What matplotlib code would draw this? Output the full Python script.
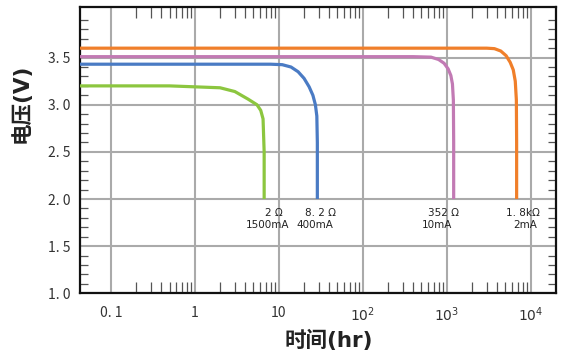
import matplotlib
matplotlib.use("Agg")
import matplotlib.pyplot as plt
from matplotlib.ticker import FixedLocator, NullFormatter

plt.rcParams['font.family'] = ['Noto Sans CJK SC', 'DejaVu Sans']

# ---- data ----
green_t = [0.04, 0.5, 1.0, 2.0, 3.0, 4.3, 5.5, 6.1, 6.5, 6.7, 6.7]
green_v = [3.20, 3.20, 3.19, 3.18, 3.14, 3.06, 3.00, 2.94, 2.85, 2.50, 2.00]

blue_t = [0.04, 8.0, 11.0, 14.0, 17.0, 20.0, 23.0, 25.5, 27.3, 28.4, 28.8, 28.8]
blue_v = [3.43, 3.43, 3.425, 3.40, 3.35, 3.28, 3.19, 3.10, 3.00, 2.88, 2.60, 2.00]

pink_t = [0.04, 400, 650, 800, 930, 1040, 1120, 1170, 1200, 1210, 1210]
pink_v = [3.51, 3.51, 3.505, 3.48, 3.44, 3.38, 3.31, 3.22, 3.05, 2.60, 2.00]

orange_t = [0.04, 3000, 3700, 4400, 5100, 5700, 6200, 6550, 6750, 6800, 6800]
orange_v = [3.60, 3.60, 3.595, 3.57, 3.52, 3.45, 3.37, 3.25, 3.05, 2.60, 2.00]

series_colors = ['#8cc63f', '#4a7bc4', '#c27ab4', '#f07f2a']

load_ohm = ['2 Ω', '8. 2 Ω', '352 Ω', '1. 8kΩ']
load_ma = ['1500mA', '400mA', '10mA', '2mA']

xticks = [0.1, 1, 10, 100, 1000, 10000]
xticklabels = ['0. 1', '1', '10', r'$10^{2}$', r'$10^{3}$', r'$10^{4}$']
yticks = [1.0, 1.5, 2.0, 2.5, 3.0, 3.5]
yticklabels = ['1. 0', '1. 5', '2. 0', '2. 5', '3. 0', '3. 5']

# ---- figure ----
fig = plt.figure(figsize=(5.7, 3.6), dpi=100)
ax = fig.add_axes([0.1404, 0.1853, 0.8350, 0.7961])

ax.set_xscale('log')
ax.set_xlim(0.043, 20000)
ax.set_ylim(1.0, 4.04)

# grid
ax.set_xticks(xticks)
ax.set_xticklabels(xticklabels)
ax.set_yticks(yticks)
ax.set_yticklabels(yticklabels)
ax.grid(True, which='major', color='#aaaaaa', linewidth=1.5)
ax.set_axisbelow(True)

# minor ticks
xminor = [m * 10.0 ** d for d in range(-1, 4) for m in range(2, 10)]
ax.xaxis.set_minor_locator(FixedLocator(xminor))
ax.xaxis.set_minor_formatter(NullFormatter())
yminor = [1.0 + 0.1 * i for i in range(31) if i % 5 != 0]
ax.yaxis.set_minor_locator(FixedLocator(yminor))

ax.tick_params(axis='both', which='major', length=0, labelsize=10,
               labelcolor='#333333')
ax.tick_params(axis='x', which='major', pad=9)
ax.tick_params(axis='y', which='major', pad=7)
ax.tick_params(axis='x', which='minor', direction='in', length=8,
               width=0.9, color='#555555', top=True, bottom=True)
ax.tick_params(axis='y', which='minor', direction='in', length=6,
               width=0.9, color='#555555', left=True, right=True)

for s in ax.spines.values():
    s.set_linewidth(1.6)
    s.set_color('#111111')

# curves
for t, v, c in zip([green_t, blue_t, pink_t, orange_t],
                   [green_v, blue_v, pink_v, orange_v], series_colors):
    ax.plot(t, v, color=c, linewidth=2.3, solid_capstyle='butt',
            solid_joinstyle='round', zorder=3)

# annotations
ohm_pos = [(8.7, 1.85), (31.6, 1.85), (910, 1.85), (8000, 1.85)]
ma_pos = [(7.4, 1.72), (27, 1.72), (760, 1.72), (8700, 1.72)]
for lab, (x, y) in zip(load_ohm, ohm_pos):
    ax.text(x, y, lab, ha='center', va='center', fontsize=7.5,
            color='#222222', family=['DejaVu Sans'])
for lab, (x, y) in zip(load_ma, ma_pos):
    ax.text(x, y, lab, ha='center', va='center', fontsize=7.5,
            color='#222222', family=['DejaVu Sans'])

label_family = ['DejaVu Sans', 'Noto Sans CJK SC']
ax.set_xlabel('时间(hr)', fontsize=15.5, fontweight='bold', color='#222222',
              va='center', family=label_family)
ax.xaxis.set_label_coords(0.523, -0.166)
ax.set_ylabel('电压(V)', fontsize=15.5, fontweight='bold', color='#222222',
              va='center', family=label_family)
ax.yaxis.set_label_coords(-0.124, 0.662)

fig.savefig('out.png', dpi=100)
